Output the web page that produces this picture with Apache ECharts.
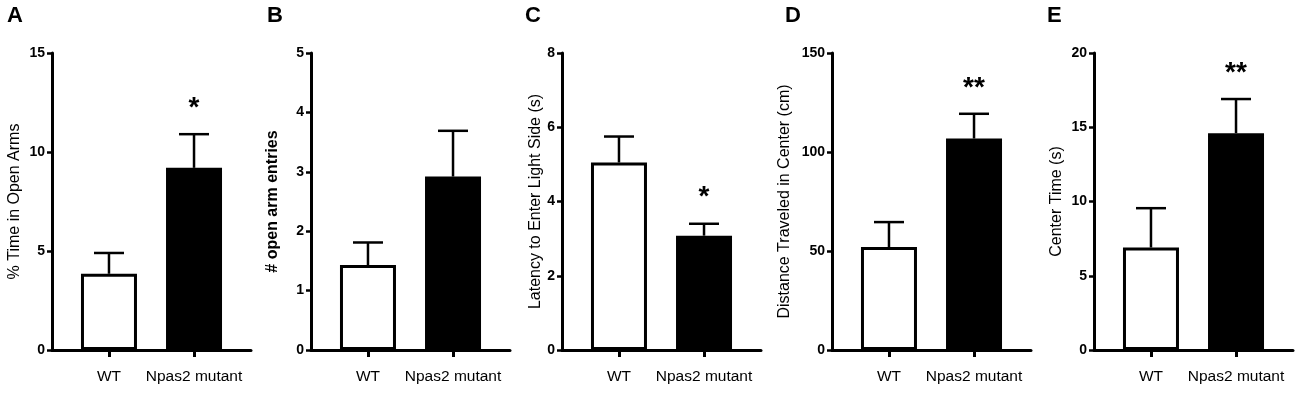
<!DOCTYPE html>
<html>
<head>
<meta charset="utf-8">
<script src="https://cdn.jsdelivr.net/npm/echarts@6/dist/echarts.min.js"></script>
<style>
  html, body { margin: 0; padding: 0; background: #fff; }
  #chart { width: 1300px; height: 394px; }
</style>
</head>
<body>
<div id="chart"></div>
<script>
const panelLetters = ["A", "B", "C", "D", "E"];
const categories = ["WT", "Npas2 mutant"];
const yNames = [
  "% Time in Open Arms",
  "# open arm entries",
  "Latency to Enter Light Side (s)",
  "Distance Traveled in Center (cm)",
  "Center Time (s)"
];
const yMax = [15, 5, 8, 150, 20];
const yStep = [5, 1, 2, 50, 5];
const wtMean = [3.85, 1.43, 5.05, 52, 6.9];
const wtSem = [1.05, 0.38, 0.7, 12.6, 2.65];
const mutMean = [9.2, 2.92, 3.08, 106.8, 14.6];
const mutSem = [1.7, 0.77, 0.32, 12.5, 2.3];
const stars = ["*", "", "*", "**", "**"];

const FONT = "'Liberation Sans', Arial, sans-serif";
const gridLeft = [52, 311, 562, 832, 1094];
const nameGaps = [29, 30, 16, 39, 29];
const catPos = [0.67, 1.67]; // x positions of the two groups on the panel's x scale

const chart = echarts.init(document.getElementById("chart"));

const grids = [], xAxes = [], yAxes = [], series = [], graphics = [];

panelLetters.forEach((letter, i) => {
  grids.push({ left: gridLeft[i], top: 53, width: 199, height: 297 });

  xAxes.push({
    type: "value",
    gridIndex: i,
    min: 0,
    max: 2.34,
    splitLine: { show: false },
    axisLine: { lineStyle: { color: "#000", width: 3 } },
    axisTick: {
      show: true,
      length: 7,
      lineStyle: { color: "#000", width: 3 },
      customValues: catPos
    },
    axisLabel: {
      color: "#000",
      fontSize: 15.5,
      fontFamily: FONT,
      margin: 19,
      customValues: catPos,
      formatter: (v) => categories[catPos.indexOf(v)] || ""
    }
  });

  yAxes.push({
    type: "value",
    gridIndex: i,
    min: 0,
    max: yMax[i],
    interval: yStep[i],
    name: yNames[i],
    nameLocation: "middle",
    nameGap: nameGaps[i],
    nameTextStyle: {
      color: "#000",
      fontSize: 16,
      fontFamily: FONT,
      fontWeight: i === 1 ? "bold" : "normal"
    },
    splitLine: { show: false },
    axisLine: { show: true, lineStyle: { color: "#000", width: 3 } },
    axisTick: { show: true, length: 5, lineStyle: { color: "#000", width: 2.5 } },
    axisLabel: {
      color: "#000",
      fontSize: 14,
      fontWeight: "bold",
      fontFamily: FONT,
      margin: 7
    }
  });

  series.push({
    type: "bar",
    xAxisIndex: i,
    yAxisIndex: i,
    barWidth: 56,
    data: [
      { value: [catPos[0], wtMean[i]], itemStyle: { color: "#fff", borderColor: "#000", borderWidth: 3 } },
      { value: [catPos[1], mutMean[i]], itemStyle: { color: "#000", borderColor: "#000", borderWidth: 3 } }
    ],
    silent: true,
    animation: false
  });

  // error bars (upper only) plus significance marks
  series.push({
    type: "custom",
    xAxisIndex: i,
    yAxisIndex: i,
    data: [
      [catPos[0], wtMean[i], wtMean[i] + wtSem[i]],
      [catPos[1], mutMean[i], mutMean[i] + mutSem[i]]
    ],
    renderItem: (params, api) => {
      const base = api.coord([api.value(0), api.value(1)]);
      const top = api.coord([api.value(0), api.value(2)]);
      const half = 15;
      const star = stars[i] && params.dataIndex === 1 ? stars[i] : "";
      const children = [
        {
          type: "line",
          shape: { x1: base[0], y1: base[1], x2: top[0], y2: top[1] },
          style: { stroke: "#000", lineWidth: 2.5 }
        },
        {
          type: "line",
          shape: { x1: top[0] - half, y1: top[1], x2: top[0] + half, y2: top[1] },
          style: { stroke: "#000", lineWidth: 2.5 }
        }
      ];
      if (star) {
        children.push({
          type: "text",
          x: top[0],
          y: top[1] - 26,
          style: {
            text: star,
            fill: "#000",
            font: "bold 28px " + FONT,
            align: "center",
            verticalAlign: "middle"
          }
        });
      }
      return { type: "group", children };
    },
    silent: true,
    animation: false,
    z: 3
  });

  graphics.push({
    type: "text",
    left: gridLeft[i] - [45, 44, 37, 47, 47][i],
    top: 5,
    style: { text: letter, fill: "#000", font: "bold 22px " + FONT }
  });
});

chart.setOption({
  animation: false,
  backgroundColor: "#fff",
  grid: grids,
  xAxis: xAxes,
  yAxis: yAxes,
  series: series,
  graphic: graphics
});
</script>
</body>
</html>
